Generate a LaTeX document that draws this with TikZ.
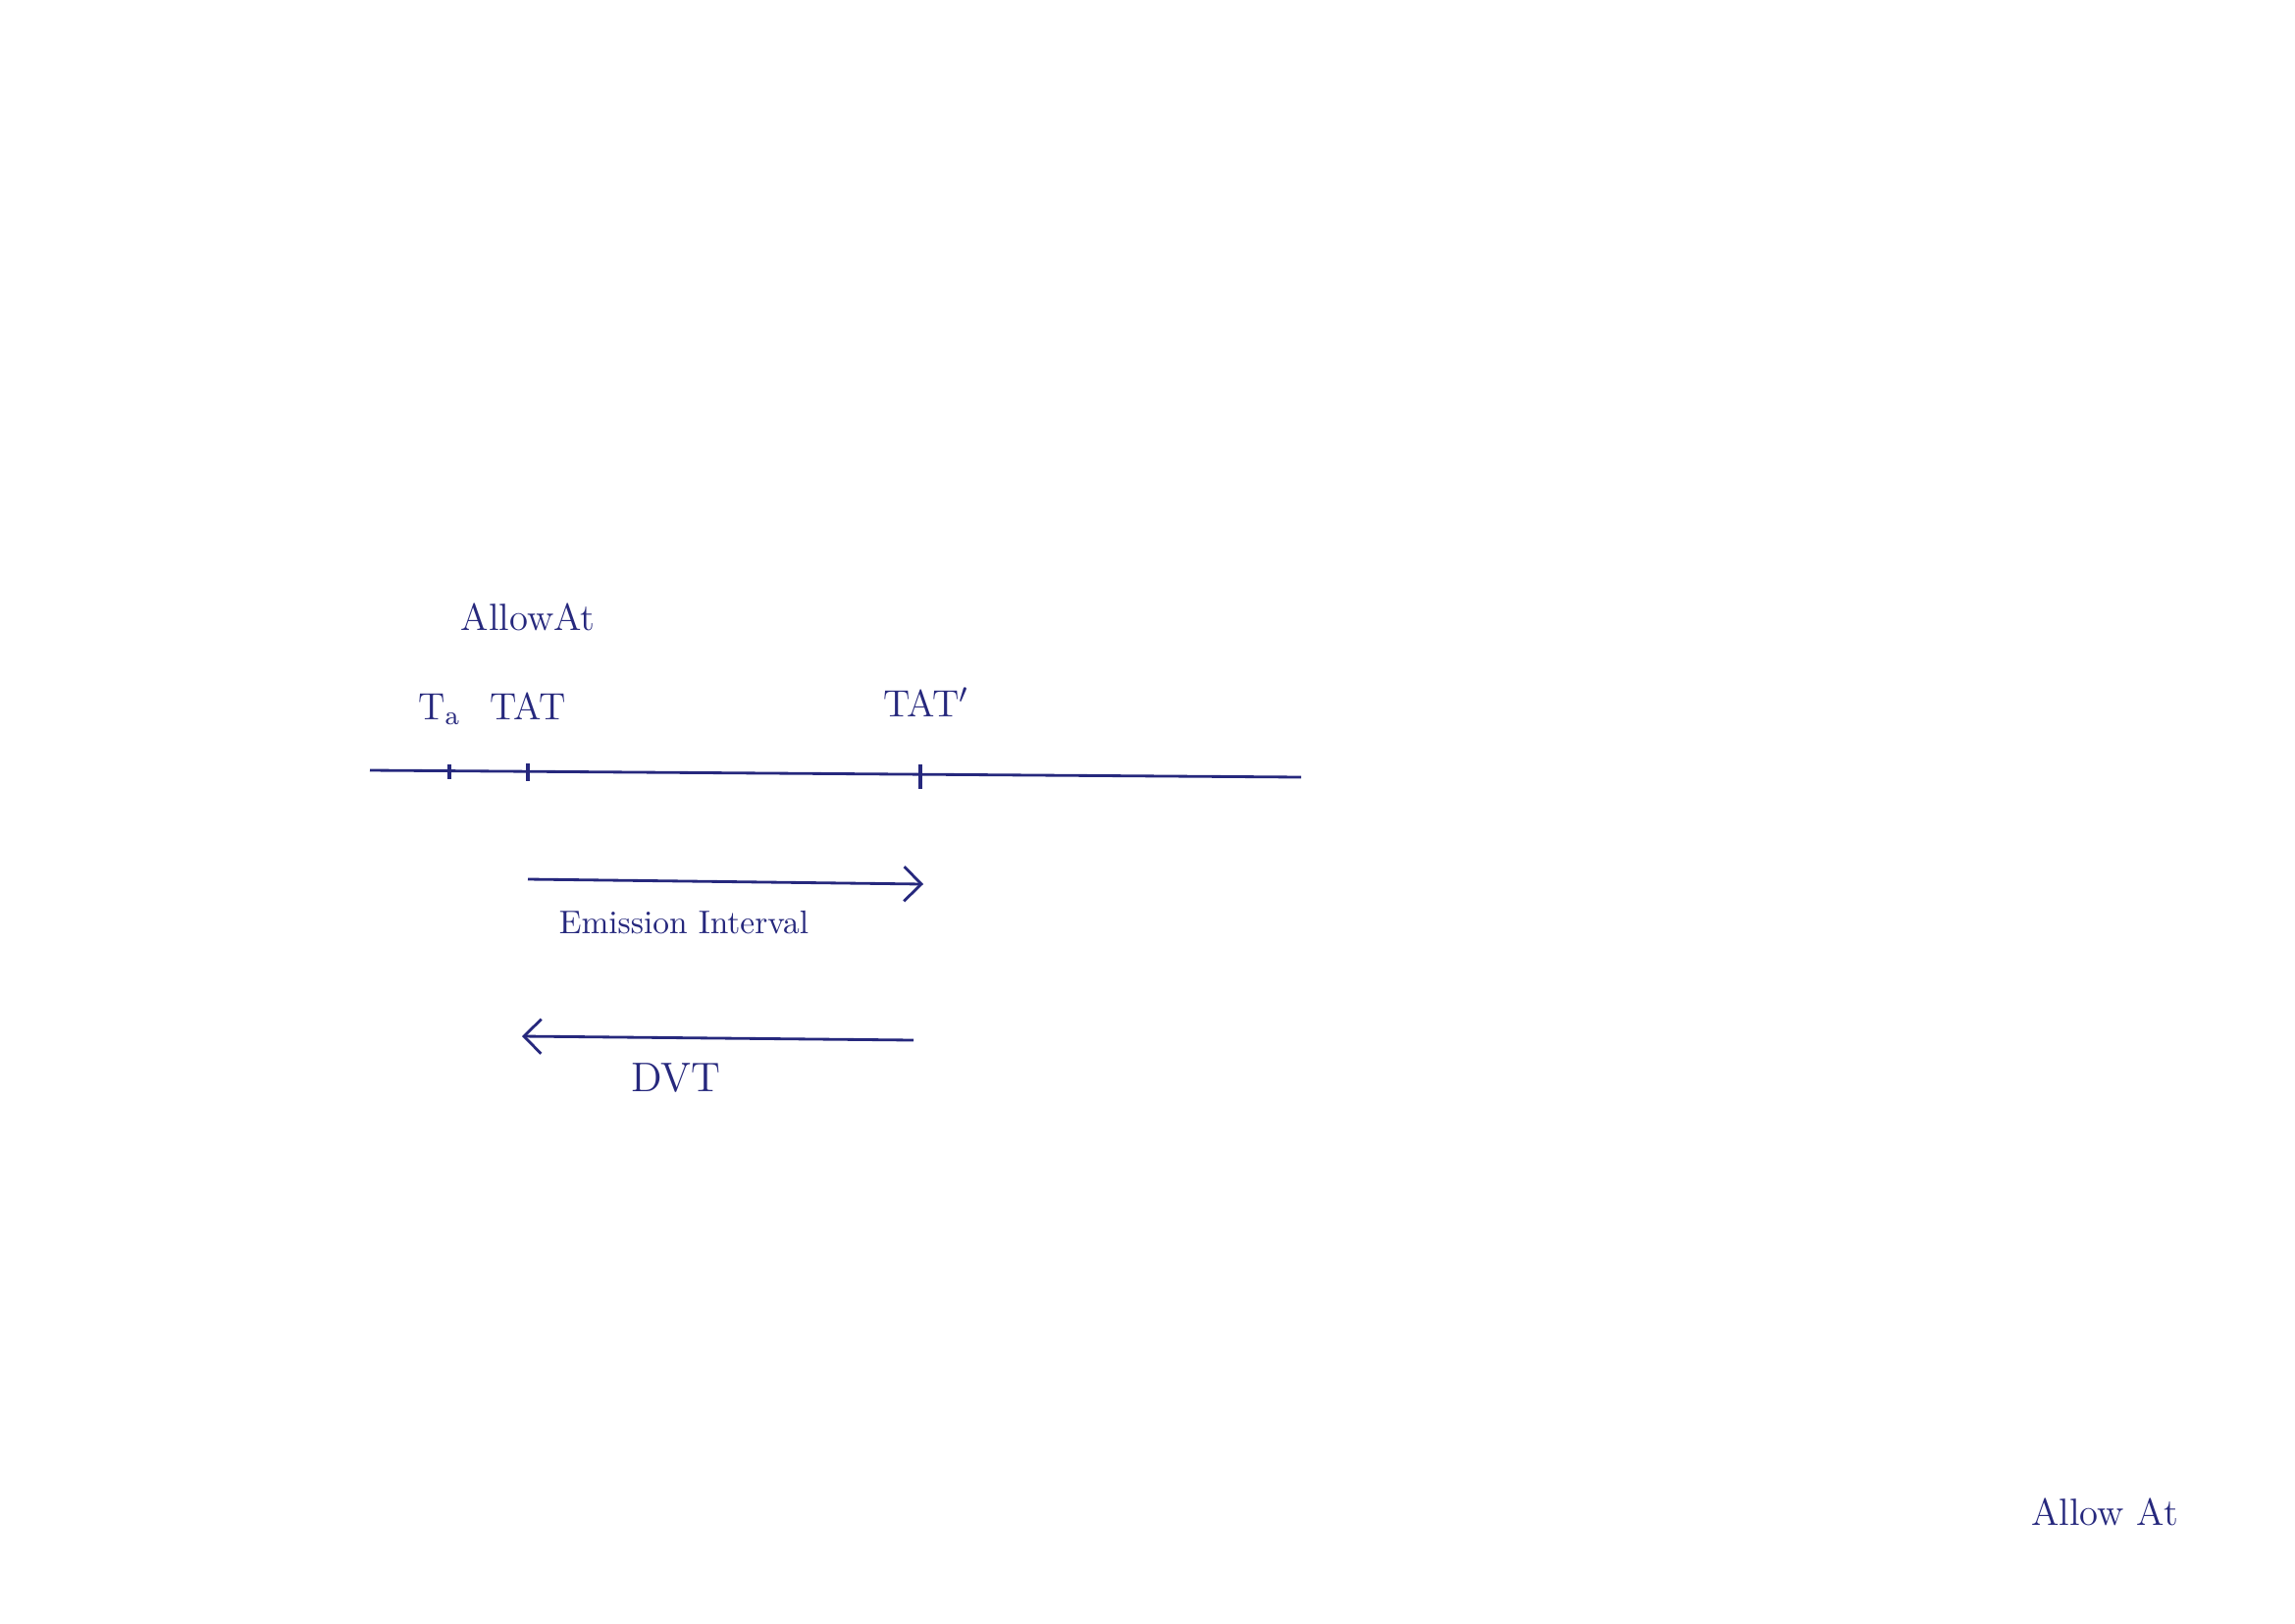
\documentclass[tikz,border=0pt]{standalone}
\usepackage{tikz}
\usetikzlibrary{positioning,arrows.meta}
\definecolor{ink}{RGB}{38,40,125}
\tikzset{
  lbl/.style={text=ink, font=\fontsize{11}{13}\selectfont, inner sep=1pt},
  big/.style={text=ink, font=\fontsize{11}{13}\selectfont, inner sep=1pt},
  axis/.style={draw=ink, line width=0.8pt},
  tk/.style={draw=ink, line width=1.1pt},
  iv/.style={draw=ink, line width=0.8pt, -{Straight Barb[length=5pt,width=10pt]}},
}
\begin{document}
\begin{tikzpicture}[x=0.01cm,y=-0.01cm]
\useasboundingbox[fill=white] (0,0) rectangle (2339,1654);
% time axis
\coordinate (a0) at (377,785);
\coordinate (a1) at (1326,792);
\draw[axis] (a0) -- (a1);
\coordinate (ta) at (458,786);
\coordinate (tat) at (538,787);
\coordinate (tatp) at (938,790);
\draw[tk] (ta) ++(0,-7) -- ++(0,15);
\draw[tk] (tat) ++(0,-9) -- ++(0,18);
\draw[tk] (tatp) ++(0,-11) -- ++(0,25);
\node[lbl] (talbl) at (448,723) {T\textsubscript{a}};
\node[lbl] (tatlbl) at (538,720) {TAT};
\node[lbl] (tatplbl) at (944,716) {TAT$'$};
\node[big, above=5.5mm of tatlbl] (allow) {AllowAt};
% intervals
\coordinate (e0) at (538,896);
\coordinate (e1) at (941,901);
\draw[iv] (e0) -- (e1);
\node[lbl, font=\fontsize{9.5}{12}\selectfont] (emi) at (697,940) {Emission Interval};
\coordinate (d0) at (931,1060);
\coordinate (d1) at (532,1056);
\draw[iv] (d0) -- (d1);
\node[lbl, font=\fontsize{12}{14}\selectfont] (dvt) at (689,1099) {DVT};
% caption
\node[big] (allow2) at (2145,1541) {Allow At};
\end{tikzpicture}
\end{document}
